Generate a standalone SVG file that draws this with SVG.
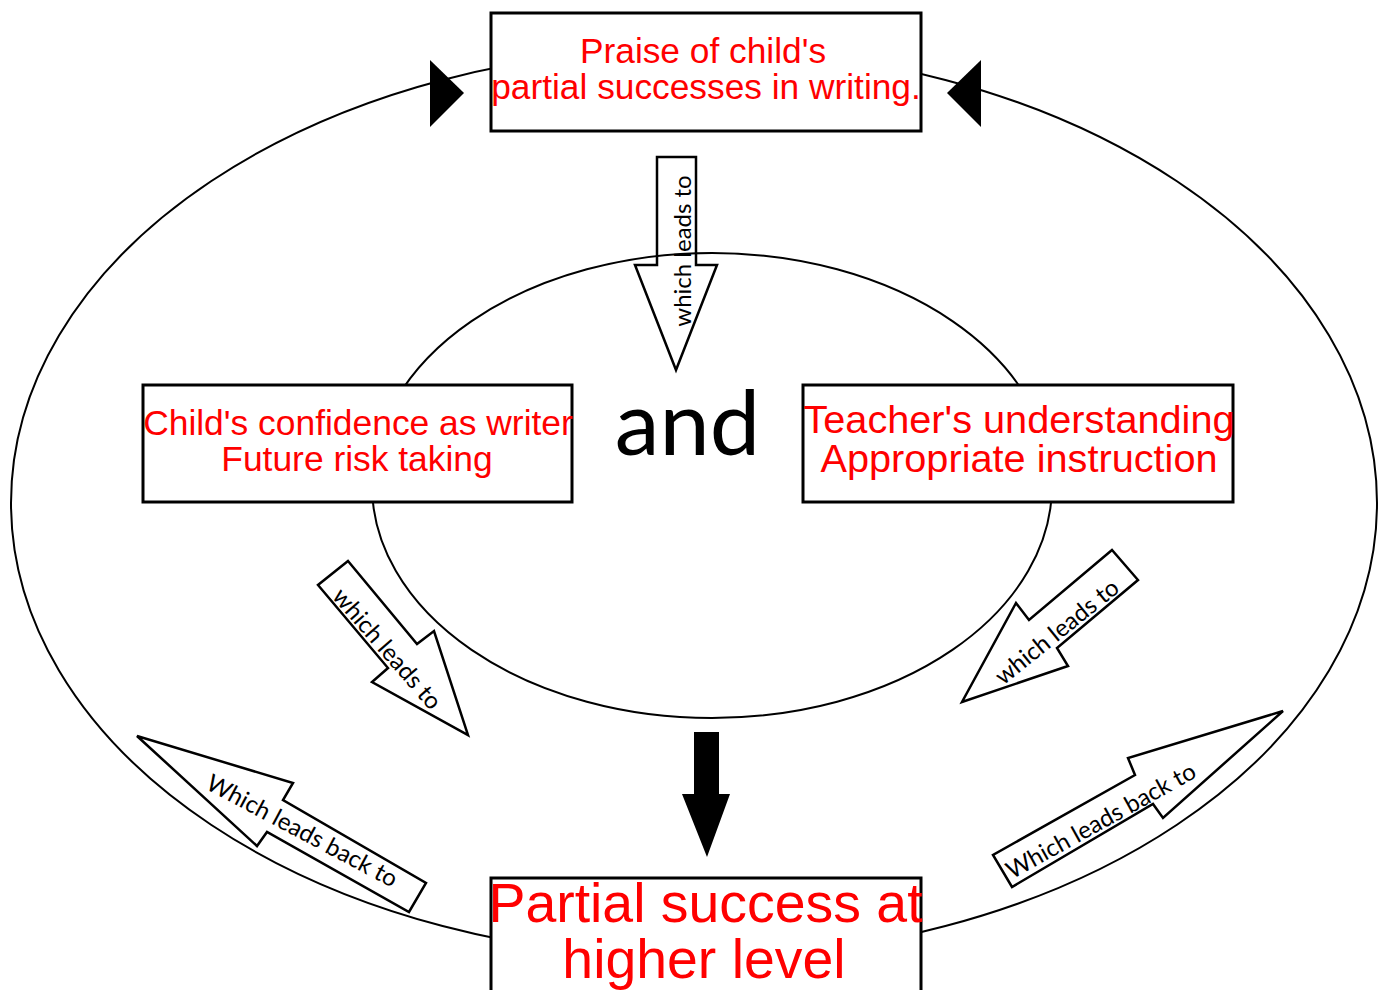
<svg xmlns="http://www.w3.org/2000/svg" width="1384" height="990" viewBox="0 0 1384 990">
  <style>
    .ring { fill: none; stroke: #000; stroke-width: 2; }
    .box { fill: #fff; stroke: #000; stroke-width: 3; }
    .label { fill: #ff0000; font-family: "Liberation Sans", Arial, sans-serif; text-anchor: middle; }
    .flow { fill: #fff; stroke: #000; stroke-width: 2.5; stroke-linejoin: miter; }
    .flow-text { fill: #000; font-family: Lato, "Open Sans", sans-serif; font-size: 24px; text-anchor: middle; }
    .solid { fill: #000; stroke: none; }
  </style>

  <rect width="1384" height="990" fill="#fff"/>

  <!-- outer cycle -->
  <g id="outer-cycle">
    <ellipse class="ring" cx="694" cy="503" rx="683" ry="455"/>
    <polygon class="solid" points="430,60 430,127 464,93"/>
    <polygon class="solid" points="981,60 981,127 947,93"/>
  </g>

  <g id="connectors">
    <!-- praise leads to -->
    <g id="arrow-praise-down">
      <polygon class="flow" points="657,157 696,157 696,265 717,265 676,370 635,265 657,265"/>
      <text class="flow-text" transform="translate(683,251) rotate(-90)" x="0" y="8">which leads to</text>
    </g>
  </g>

  <!-- inner ring -->
  <g id="inner-ring">
    <ellipse class="ring" cx="712" cy="485.5" rx="340" ry="232.5"/>
  </g>

  <g id="node-praise">
    <rect class="box" x="491" y="13" width="430" height="118"/>
    <text class="label" font-size="35.3"><tspan x="703" y="63">Praise of child's</tspan><tspan x="706" y="99">partial successes in writing.</tspan></text>
  </g>

  <g id="node-child">
    <rect class="box" x="143" y="385" width="429" height="117"/>
    <text class="label" font-size="35.4"><tspan x="358" y="435">Child's confidence as writer</tspan><tspan x="357" y="471">Future risk taking</tspan></text>
  </g>

  <g id="node-and">
    <text x="687.5" y="455" font-family="Lato, 'Open Sans', sans-serif" font-size="90" text-anchor="middle" fill="#000">and</text>
  </g>

  <g id="node-teacher">
    <rect class="box" x="803" y="385" width="430" height="117"/>
    <text class="label" font-size="39.7"><tspan x="1019" y="433">Teacher's understanding</tspan><tspan x="1019" y="472">Appropriate instruction</tspan></text>
  </g>

  <g id="node-partial">
    <rect class="box" x="491" y="878" width="430" height="130"/>
    <text class="label" font-size="55.4"><tspan x="705.5" y="922">Partial success at</tspan><tspan x="704" y="978">higher level</tspan></text>
  </g>

  <g id="connectors-lower">
    <g id="arrow-child-down">
      <polygon class="flow" points="348,561 417,644 434,631 468,735 372,682 388,668 318,585"/>
      <text class="flow-text" transform="translate(387,649) rotate(49)" x="0" y="8">which leads to</text>
    </g>
    <g id="arrow-teacher-down">
      <polygon class="flow" points="1112,550 1029,620 1016,603 962,702 1068,666 1057,648 1138,580"/>
      <text class="flow-text" transform="translate(1057,632) rotate(-39)" x="0" y="8">which leads to</text>
    </g>
    <g id="arrow-center-down">
      <polygon class="solid" points="694,732 719,732 719,794 730,794 707,857 682,794 694,794"/>
    </g>
    <g id="arrow-back-left">
      <polygon class="flow" points="137,736 293,783 283,800 426,883 409,912 267,832 257,846"/>
      <text class="flow-text" transform="translate(302,831) rotate(28)" x="0" y="8" font-size="25">Which leads back to</text>
    </g>
    <g id="arrow-back-right">
      <polygon class="flow" points="1283,711 1163,818 1153,804 1012,887 993,855 1135,775 1128,758"/>
      <text class="flow-text" transform="translate(1101,821) rotate(-29)" x="0" y="8" font-size="25">Which leads back to</text>
    </g>
  </g>
</svg>
